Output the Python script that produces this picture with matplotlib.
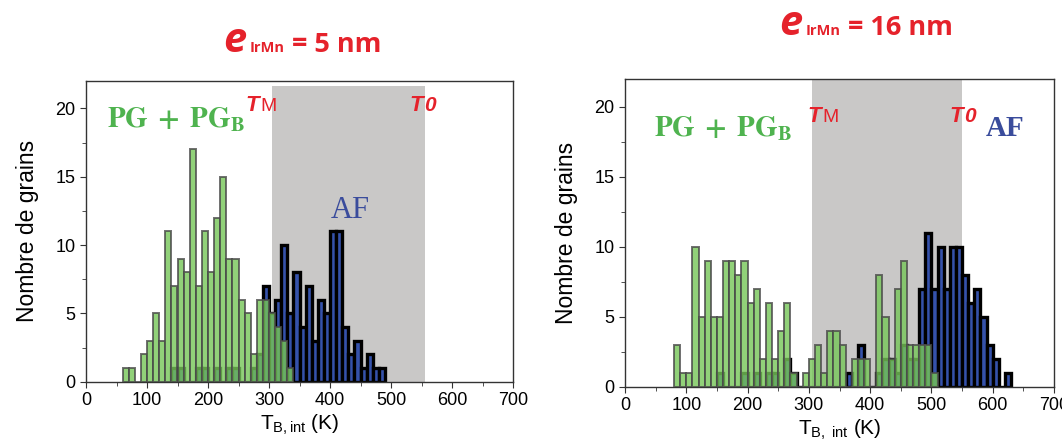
import numpy as np
import matplotlib
matplotlib.use('Agg')
import matplotlib.pyplot as plt
from matplotlib.ticker import MultipleLocator

plt.rcParams['font.family'] = ['Liberation Sans', 'DejaVu Sans']
plt.rcParams['mathtext.fontset'] = 'custom'
plt.rcParams['mathtext.rm'] = 'Liberation Sans'
plt.rcParams['mathtext.it'] = 'Liberation Sans:italic'
plt.rcParams['mathtext.bf'] = 'Liberation Sans:bold'

BIN_WIDTH = 10  # K

# e_IrMn = 5 nm : grain counts per 10 K bin, starting at the given temperature
pg_5nm_start = 60
pg_5nm = [1, 1, 0, 2, 3, 5, 3, 11, 7, 9, 8, 17, 7, 11, 8, 12, 15, 9, 9, 6,
          5, 2, 6, 6, 5, 4, 3, 1]
af_5nm_start = 140
af_5nm = [1, 1, 0, 0, 1, 1, 0, 1, 0, 1, 1, 0, 0, 1, 2, 7, 5, 6, 10, 5,
          8, 4, 7, 3, 6, 5, 11, 11, 4, 2, 3, 1, 2, 1, 1]

# e_IrMn = 16 nm
pg_16nm_start = 80
pg_16nm = [3, 1, 1, 10, 5, 9, 5, 5, 9, 9, 8, 9, 6, 7, 2, 6, 2, 4, 6, 1,
           0, 1, 2, 3, 1, 4, 4, 3, 0, 2, 2, 2, 0, 8, 5, 2, 7, 9, 3, 3,
           3, 3, 1]
af_16nm_start = 150
af_16nm = [1, 0, 0, 0, 1, 0, 1, 0, 1, 1, 0, 2, 1, 0, 0, 0, 0, 0, 0, 0,
           0, 1, 0, 3, 0, 0, 1, 2, 2, 1, 3, 2, 2, 7, 11, 7, 10, 7, 10, 10,
           8, 6, 7, 5, 3, 2, 0, 1]

# blocking-temperature window (T_M, T_0)
window_5nm = (305, 555)
window_16nm = (305, 550)

thickness_labels = ['5 nm', '16 nm']
xlabels = [r'T$_{\mathrm{B,int}}$ (K)', r'T$_{\mathrm{B,\ int}}$ (K)']

RED = '#e5222b'
GREEN_TXT = '#4fb34f'
BLUE_TXT = '#3a4c9c'


def bins(start, counts):
    return np.arange(start, start + BIN_WIDTH * len(counts), BIN_WIDTH)


fig = plt.figure(figsize=(10.62, 4.46), dpi=100)
W, H = 1062, 446
ax1 = fig.add_axes([86 / W, (H - 381.7) / H, 427 / W, 300.7 / H])
ax2 = fig.add_axes([625 / W, (H - 386.7) / H, 429 / W, 307.7 / H])

panels = [
    (ax1, pg_5nm_start, pg_5nm, af_5nm_start, af_5nm, window_5nm, 0.985),
    (ax2, pg_16nm_start, pg_16nm, af_16nm_start, af_16nm, window_16nm, 1.0),
]

for i, (ax, pg0, pg, af0, af, win, top) in enumerate(panels):
    ax.axvspan(win[0], win[1], ymin=0, ymax=top, color='#c9c8c7', lw=0, zorder=0)
    ax.bar(bins(af0, af), af, width=BIN_WIDTH, align='edge',
           facecolor='#3552ab', edgecolor='black', linewidth=2.4, zorder=2)
    ax.bar(bins(pg0, pg), pg, width=BIN_WIDTH, align='edge',
           facecolor='#76c658', edgecolor='#4a4a4a', linewidth=1.4,
           alpha=0.8, zorder=3)
    ax.set_xlim(0, 700)
    ax.set_ylim(0, 22)
    ax.xaxis.set_major_locator(MultipleLocator(100))
    ax.xaxis.set_minor_locator(MultipleLocator(50))
    ax.yaxis.set_major_locator(MultipleLocator(5))
    ax.yaxis.set_minor_locator(MultipleLocator(2.5))
    ax.tick_params(which='both', direction='out', labelsize=13, color='#333333')
    ax.tick_params(which='major', length=4)
    ax.tick_params(which='minor', length=3)
    for sp in ax.spines.values():
        sp.set_color('#333333')
        sp.set_linewidth(1.0)
    ax.set_xlabel(xlabels[i], fontsize=15, labelpad=3)
    ax.set_ylabel('Nombre de grains', fontsize=16.5, labelpad=12)

# annotations
ax1.text(35, 18.6, r'$\mathbf{PG\;+\;PG_B}$', math_fontfamily='stix',
         color=GREEN_TXT, fontsize=21, zorder=5)
ax1.text(402, 11.95, 'AF', family='Liberation Serif', color=BLUE_TXT,
         fontsize=22, zorder=5)
ax2.text(48, 17.9, r'$\mathbf{PG\;+\;PG_B}$', math_fontfamily='stix',
         color=GREEN_TXT, fontsize=21, zorder=5)
ax2.text(588, 17.9, 'AF', family='Liberation Serif', weight='bold',
         color=BLUE_TXT, fontsize=21, zorder=5)


def temp_label(ax, x, y, sub):
    ax.text(x, y, 'T', color=RED, fontsize=16, style='italic', weight='bold', zorder=5)
    if sub == 'M':
        ax.annotate('M', xy=(x, y), xytext=(10.5, 0), textcoords='offset points',
                    color=RED, fontsize=14, zorder=5)
    else:
        ax.annotate('0', xy=(x, y), xytext=(10.5, 0), textcoords='offset points',
                    color=RED, fontsize=15, style='italic', weight='bold', zorder=5)


temp_label(ax1, 262, 19.8, 'M')
temp_label(ax1, 531, 19.8, '0')
temp_label(ax2, 298, 18.9, 'M')
temp_label(ax2, 530, 18.9, '0')


# titles: e_IrMn = ... nm
def title(x_px, y_px, value):
    x, y = x_px / W, 1 - y_px / H
    fig.text(x, y, 'e', color=RED, fontsize=30, style='italic',
             weight='bold', family='Open Sans', va='baseline')
    fig.text(x + 27 / W, y, 'IrMn', color=RED, fontsize=10.5, weight='bold',
             family='Open Sans', va='baseline')
    fig.text(x + 69 / W, y, '= ' + value, color=RED, fontsize=19.5, weight='bold',
             family='Open Sans', va='baseline')


title(223, 52, thickness_labels[0])
title(779, 35, thickness_labels[1])

fig.savefig('out.png', dpi=100)
